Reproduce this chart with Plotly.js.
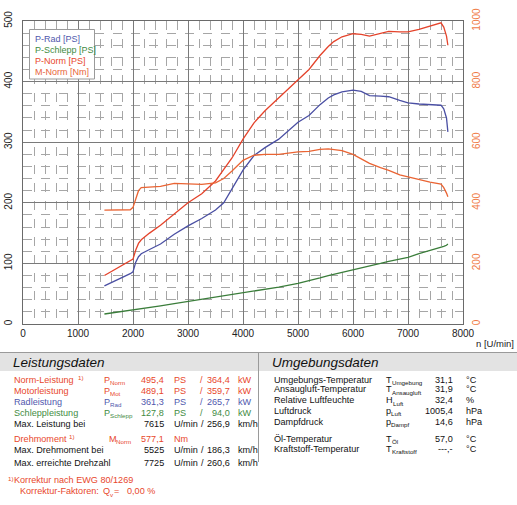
<!DOCTYPE html>
<html>
<head>
<meta charset="utf-8">
<script src="https://cdn.plot.ly/plotly-3.0.1.min.js"></script>
<style>html,body{margin:0;padding:0;background:#fff;}#chart{width:517px;height:505px;}</style>
</head>
<body>
<div id="chart"></div>
<script>
// ---- chart data ----
const rpm = [1480,1600,1800,1950,2000,2050,2100,2150,2300,2500,2750,3000,3250,3500,3650,3800,4000,4200,4400,4650,5000,5200,5400,5550,5650,5800,6000,6150,6300,6500,6650,6850,7000,7200,7400,7600,7650,7700,7725];
const pRad = [63,68,76,83,86,102,111,116,123,132,148,162,174,188,200,224,254,278,291,305,333,344,362,373,378,383,386,384,377,376,375,369,365,363,362,361,355,340,317];
const pSchlepp = [16.5,18,20.5,22.5,23,23.5,24,25,27,30,33.5,37,40.5,44,46,48.5,51,54,57,61,67,71,76,80,82,85,89,92,95.5,100,103.5,107,110,116,121,126,128,130,132];
const pNorm = [80,86,96,104,107,122,133,139,150,163,181,200,215,236,255,274,305,332,352,373,402,420,443,458,466,474,479,478,475,480,483,482,482,486,491,497,490,475,460];
const mNorm = [376,376,376,377,385,415,440,450,452,454,464,462,461,466,480,505,540,557,560,560,568,570,576,578,576,572,560,546,530,516,507,492,485,475,468,462,450,432,420];
const seriesNames = ['P-Rad [PS]','P-Schlepp [PS]','P-Norm [PS]','M-Norm [Nm]'];
const xTitle = 'n [U/min]';

// ---- table data ----
const leistTitle = 'Leistungsdaten';
const umgTitle = 'Umgebungsdaten';
const footMark = '1)';
const powerLabels = ['Norm-Leistung','Motorleistung','Radleistung','Schleppleistung'];
const powerSymbols = ['Norm','Mot','Rad','Schlepp'];
const powerPS = ['495,4','489,1','361,3','127,8'];
const powerKW = ['364,4','359,7','265,7','94,0'];
const speedLabels = ['Max. Leistung bei','Max. Drehmoment bei','Max. erreichte Drehzahl'];
const speedRpm = ['7615','5525','7725'];
const speedKmh = ['256,9','186,3','260,6'];
const torqueLabel = 'Drehmoment';
const torqueSymbol = 'Norm';
const torqueValue = '577,1';
const corrLine1 = 'Korrektur nach EWG 80/1269';
const corrLine2 = 'Korrektur-Faktoren:';
const corrValue = '0,00 %';
const envLabels = ['Umgebungs-Temperatur','Ansaugluft-Temperatur','Relative Luftfeuchte','Luftdruck','Dampfdruck','Öl-Temperatur','Kraftstoff-Temperatur'];
const envSymMain = ['T','T','H','p','p','T','T'];
const envSymSub = ['Umgebung','Ansaugluft','Luft','Luft','Dampf','Öl','Kraftstoff'];
const envValues = ['31,1','31,9','32,4','1005,4','14,6','57,0','---,-'];
const envUnits = ['°C','°C','%','hPa','hPa','°C','°C'];

// ---- styles ----
const FONT = 'Liberation Sans, Arial, Helvetica, sans-serif';
const cBlue = '#4a4fa3', cGreen = '#3a7d3a', cRed = '#e4432b', cOrange = '#ea6433';
const tBlue = '#5058ad', tGreen = '#3f8c3f', tRed = '#e8472c', tOrange = '#e8643a';
const powerColors = [tRed, tRed, tBlue, tGreen];
const TS = 9.1, SS = 6.2;
const mainW = {P: 6.1, M: 7.6, T: 5.6, H: 6.6, p: 5.1, Q: 7.1};

// pixel -> paper conversion (plot area: x 23..463, y 21..324)
const PL = 23, PR = 463, PT = 21, PB = 324;
const X = p => (p - PL) / (PR - PL);
const Y = p => (PB - p) / (PB - PT);

const traces = [
  {x: rpm, y: pRad, name: seriesNames[0], mode: 'lines', line: {color: cBlue, width: 1.3}},
  {x: rpm, y: pSchlepp, name: seriesNames[1], mode: 'lines', line: {color: cGreen, width: 1.3}},
  {x: rpm, y: pNorm, name: seriesNames[2], mode: 'lines', line: {color: cRed, width: 1.3}},
  {x: rpm, y: mNorm, name: seriesNames[3], yaxis: 'y2', mode: 'lines', line: {color: cOrange, width: 1.3}}
];

const ann = [];
function t(text, px, py, o) {
  o = o || {};
  ann.push({xref: 'paper', yref: 'paper', x: X(px), y: Y(py), text: text, showarrow: false,
    xanchor: o.anchor || 'left', yanchor: 'middle',
    font: {family: FONT, size: o.size || TS, color: o.color || '#111', style: o.style || 'normal'}});
}
function sym(main, sub, px, py, color) {
  t(main, px, py, {color: color});
  t(sub, px + mainW[main] + 0.3, py + 3, {color: color, size: SS});
}
function sup(px, py, color) { t(footMark, px, py - 2.5, {color: color, size: SS}); }

// legend box
const legColors = [tBlue, tGreen, tRed, tOrange];
const legY = [39, 50, 61, 72];
seriesNames.forEach((n, i) => t(n, 32.5, legY[i], {color: legColors[i], size: 9}));

// x axis title
t(xTitle, 474, 343, {size: 9.5, color: '#222'});

// headers
t(leistTitle, 11, 362, {size: 13.5, style: 'italic'});
t(umgTitle, 270, 362, {size: 13.5, style: 'italic'});

// power rows
const powerY = [379.5, 390.5, 401.5, 412.5];
powerLabels.forEach((lab, i) => {
  const c = powerColors[i];
  t(lab, 12, powerY[i], {color: c});
  if (i === 0) sup(75.5, powerY[i], c);
  sym('P', powerSymbols[i], 101.5, powerY[i], c);
  t(powerPS[i], 166, powerY[i], {color: c, anchor: 'right'});
  t('PS', 172, powerY[i], {color: c});
  t('/', 198, powerY[i], {color: c});
  t(powerKW[i], 232, powerY[i], {color: c, anchor: 'right'});
  t('kW', 236, powerY[i], {color: c});
});
// speed rows
const speedY = [423.5, 450, 463];
speedLabels.forEach((lab, i) => {
  t(lab, 12, speedY[i]);
  t(speedRpm[i], 166, speedY[i], {anchor: 'right'});
  t('U/min', 172, speedY[i]);
  t('/', 199, speedY[i]);
  t(speedKmh[i], 232, speedY[i], {anchor: 'right'});
  t('km/h', 236, speedY[i]);
});
// torque row
t(torqueLabel, 12, 438.5, {color: tRed});
sup(66.5, 438.5, tRed);
sym('M', torqueSymbol, 106.5, 438.5, tRed);
t(torqueValue, 166, 438.5, {color: tRed, anchor: 'right'});
t('Nm', 172, 438.5, {color: tRed});
// correction
sup(6, 480.5, tRed);
t(corrLine1, 12, 480.5, {color: tRed});
t(corrLine2, 18, 491, {color: tRed});
sym('Q', 'v', 100.5, 491, tRed);
t('=', 112, 491, {color: tRed});
t(corrValue, 125, 491, {color: tRed});

// environment rows
const envY = [379.5, 389.5, 400, 410.5, 421.5, 438.5, 448.5];
envLabels.forEach((lab, i) => {
  t(lab, 271.5, envY[i]);
  sym(envSymMain[i], envSymSub[i], 384, envY[i], '#111');
  t(envValues[i], 455, envY[i], {anchor: 'right'});
  t(envUnits[i], 464, envY[i]);
});

const shapes = [
  {type: 'rect', xref: 'paper', yref: 'paper', x0: X(29.5), x1: X(94.5), y0: Y(29.5), y1: Y(79), fillcolor: '#ffffff', line: {color: '#9a9a9a', width: 1}},
  {type: 'rect', xref: 'paper', yref: 'paper', x0: X(0), x1: X(517), y0: Y(352.5), y1: Y(371), fillcolor: '#e3e3e3', line: {width: 0}, layer: 'below'},
  {type: 'line', xref: 'paper', yref: 'paper', x0: X(0), x1: X(517), y0: Y(352.5), y1: Y(352.5), line: {color: '#9a9a9a', width: 1}},
  {type: 'line', xref: 'paper', yref: 'paper', x0: X(258.5), x1: X(258.5), y0: Y(352.5), y1: Y(462), line: {color: '#9a9a9a', width: 1}}
];

const gridMinor = {showgrid: true, gridcolor: '#a6a6a6', griddash: 'dash', gridwidth: 1, ticks: ''};
const layout = {
  width: 517, height: 505,
  margin: {l: PL, r: 517 - PR, t: PT, b: 505 - PB, pad: 0},
  paper_bgcolor: '#ffffff', plot_bgcolor: '#ffffff',
  showlegend: false,
  font: {family: FONT, size: 10, color: '#222'},
  xaxis: {range: [0, 8000], dtick: 1000, tick0: 0, showgrid: true, gridcolor: '#7a7a7a', gridwidth: 1,
    showline: true, linecolor: '#6a6a6a', linewidth: 1, mirror: true, zeroline: false, ticks: '',
    tickfont: {family: FONT, size: 10, color: '#222'}, automargin: false,
    minor: Object.assign({dtick: 200}, gridMinor)},
  yaxis: {range: [0, 500], dtick: 100, tick0: 0, showgrid: true, gridcolor: '#7a7a7a', gridwidth: 1,
    showline: true, linecolor: '#6a6a6a', linewidth: 1, mirror: true, zeroline: false, ticks: '',
    tickangle: -90, ticklabelstandoff: 6, tickfont: {family: FONT, size: 10, color: '#222'}, automargin: false,
    minor: Object.assign({dtick: 20}, gridMinor)},
  yaxis2: {range: [0, 1000], dtick: 200, tick0: 0, overlaying: 'y', side: 'right', showgrid: false, zeroline: false,
    showline: false, ticks: '', tickangle: -90, ticklabelstandoff: 6,
    tickfont: {family: FONT, size: 10, color: '#f07a45'}, automargin: false},
  annotations: ann,
  shapes: shapes
};

Plotly.newPlot('chart', traces, layout, {displayModeBar: false, staticPlot: true});
</script>
</body>
</html>
